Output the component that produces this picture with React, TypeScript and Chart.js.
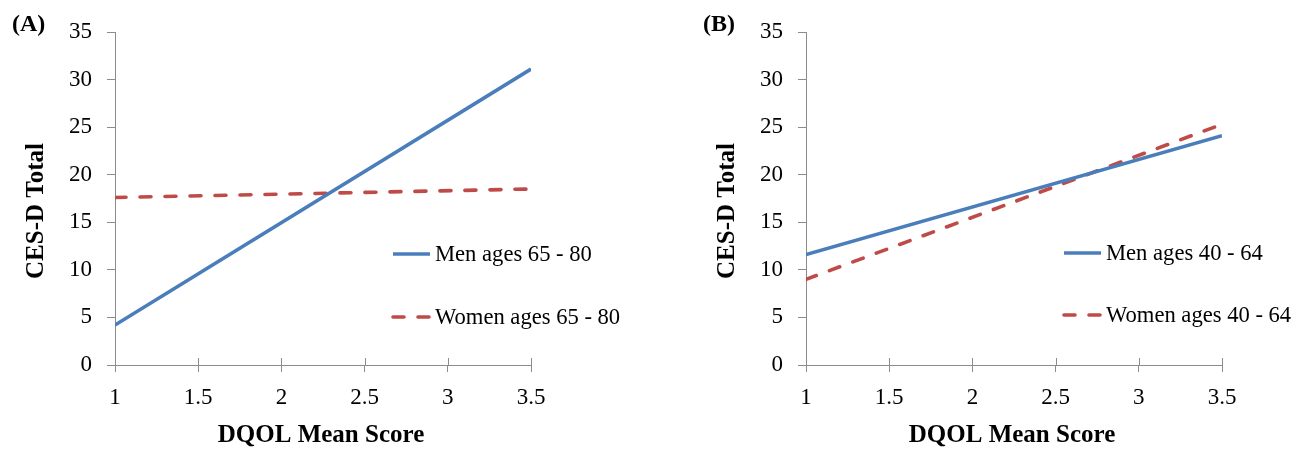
import React, { useEffect, useRef } from 'react';
import { Chart, registerables } from 'chart.js';

Chart.register(...registerables);

// ---- data ----
const xValues = [1, 3.5];
const xTickValues = [1, 1.5, 2, 2.5, 3, 3.5];
const yTickValues = [0, 5, 10, 15, 20, 25, 30, 35];
const menA = [4.2, 31.1];
const womenA = [17.6, 18.5];
const menB = [11.6, 24.1];
const womenB = [9.0, 25.3];
const legendA = ['Men ages 65 - 80', 'Women ages 65 - 80'];
const legendB = ['Men ages 40 - 64', 'Women ages 40 - 64'];
const panelLabels = ['(A)', '(B)'];
const xTitle = 'DQOL Mean Score';
const yTitle = 'CES-D Total';

const FONT = '"Liberation Serif", "Times New Roman", serif';
const AXIS = '#8c8c8c';
const BLUE = '#4a7ebb';
const RED = '#be4b48';

const decorPlugin = {
  id: 'decor',
  beforeDatasetsDraw(chart: any) {
    const ctx = chart.ctx;
    const area = chart.chartArea;
    const xs = chart.scales.x;
    ctx.save();
    ctx.strokeStyle = AXIS;
    ctx.lineWidth = 1;
    xs.ticks.forEach((_t: any, i: number) => {
      const px = Math.round(xs.getPixelForTick(i)) + 0.5;
      ctx.beginPath();
      ctx.moveTo(px, area.bottom);
      ctx.lineTo(px, area.bottom - 7);
      ctx.stroke();
    });
    ctx.restore();
  },
  afterDraw(chart: any, _args: any, opts: any) {
    const ctx = chart.ctx;
    const area = chart.chartArea;
    ctx.save();
    // legend
    chart.data.datasets.forEach((ds: any, i: number) => {
      const y = area.top + opts.legendY[i];
      const x0 = area.left + opts.legendX;
      ctx.beginPath();
      ctx.strokeStyle = ds.borderColor;
      ctx.lineWidth = ds.borderWidth;
      ctx.lineCap = ds.borderCapStyle || 'butt';
      ctx.setLineDash(ds.borderDash || []);
      ctx.moveTo(x0 + 1, y);
      ctx.lineTo(x0 + 38, y);
      ctx.stroke();
      ctx.setLineDash([]);
      ctx.fillStyle = '#000';
      ctx.font = `22.6px ${FONT}`;
      ctx.textAlign = 'left';
      ctx.textBaseline = 'middle';
      ctx.fillText(ds.label, x0 + 43, y + 1);
    });
    // axis titles
    ctx.fillStyle = '#000';
    ctx.font = `bold 25px ${FONT}`;
    ctx.textAlign = 'center';
    ctx.textBaseline = 'alphabetic';
    ctx.fillText(opts.xTitle, (area.left + area.right) / 2 - 2, 442);
    ctx.save();
    ctx.translate(43, 211);
    ctx.rotate(-Math.PI / 2);
    ctx.fillText(opts.yTitle, 0, 0);
    ctx.restore();
    // panel label
    ctx.font = `bold 24px ${FONT}`;
    ctx.textAlign = 'left';
    ctx.fillText(opts.panel, 12, 31);
    ctx.restore();
  },
};

type PanelProps = {
  width: number;
  left: number;
  men: number[];
  women: number[];
  labels: string[];
  panel: string;
  legendX: number;
  legendY: number[];
};

function Panel({ width, left, men, women, labels, panel, legendX, legendY }: PanelProps) {
  const ref = useRef<HTMLCanvasElement | null>(null);
  useEffect(() => {
    if (!ref.current) return;
    const chart = new Chart(ref.current, {
      type: 'line',
      data: {
        datasets: [
          {
            label: labels[0],
            data: xValues.map((x, i) => ({ x, y: men[i] })),
            borderColor: BLUE,
            borderWidth: 3.6,
            pointRadius: 0,
            tension: 0,
            fill: false,
          },
          {
            label: labels[1],
            data: xValues.map((x, i) => ({ x, y: women[i] })),
            borderColor: RED,
            borderWidth: 3.6,
            borderDash: [11, 14],
            borderCapStyle: 'round',
            pointRadius: 0,
            tension: 0,
            fill: false,
          },
        ],
      } as any,
      plugins: [decorPlugin as any],
      options: {
        animation: false,
        responsive: false,
        events: [],
        layout: { padding: { left: 0, top: 32, right: width - 531, bottom: 0 } },
        plugins: {
          legend: { display: false },
          tooltip: { enabled: false },
          decor: { legendX, legendY, xTitle, yTitle, panel },
        } as any,
        scales: {
          x: {
            type: 'linear',
            min: xTickValues[0],
            max: xTickValues[xTickValues.length - 1],
            afterBuildTicks: (scale: any) => {
              scale.ticks = xTickValues.map((v) => ({ value: v }));
            },
            afterFit: (scale: any) => {
              scale.height = 84;
            },
            ticks: {
              color: '#000',
              font: { family: FONT, size: 23 },
              padding: 12,
              maxRotation: 0,
              autoSkip: false,
              callback: (v: any) => String(v),
            },
            grid: { drawOnChartArea: false, color: AXIS, tickLength: 7 },
            border: { display: true, color: AXIS, width: 1 },
          },
          y: {
            type: 'linear',
            min: yTickValues[0],
            max: yTickValues[yTickValues.length - 1],
            afterBuildTicks: (scale: any) => {
              scale.ticks = yTickValues.map((v) => ({ value: v }));
            },
            afterFit: (scale: any) => {
              scale.width = 115;
            },
            ticks: {
              color: '#000',
              font: { family: FONT, size: 23 },
              padding: 15,
              autoSkip: false,
              callback: (v: any) => String(v),
            },
            grid: { drawOnChartArea: false, color: AXIS, tickLength: 8 },
            border: { display: true, color: AXIS, width: 1 },
          },
        },
      } as any,
    });
    return () => chart.destroy();
  }, []);
  return (
    <canvas
      ref={ref}
      width={width}
      height={449}
      style={{ position: 'absolute', left, top: 0, width, height: 449, display: 'block' }}
    />
  );
}

export default function App() {
  return (
    <div style={{ position: 'absolute', left: 0, top: 0, width: 1311, height: 449, background: '#fff' }}>
      <Panel width={691} left={0} men={menA} women={womenA} labels={legendA} panel={panelLabels[0]} legendX={277} legendY={[222, 285]} />
      <Panel width={620} left={691} men={menB} women={womenB} labels={legendB} panel={panelLabels[1]} legendX={257} legendY={[221, 283]} />
    </div>
  );
}
